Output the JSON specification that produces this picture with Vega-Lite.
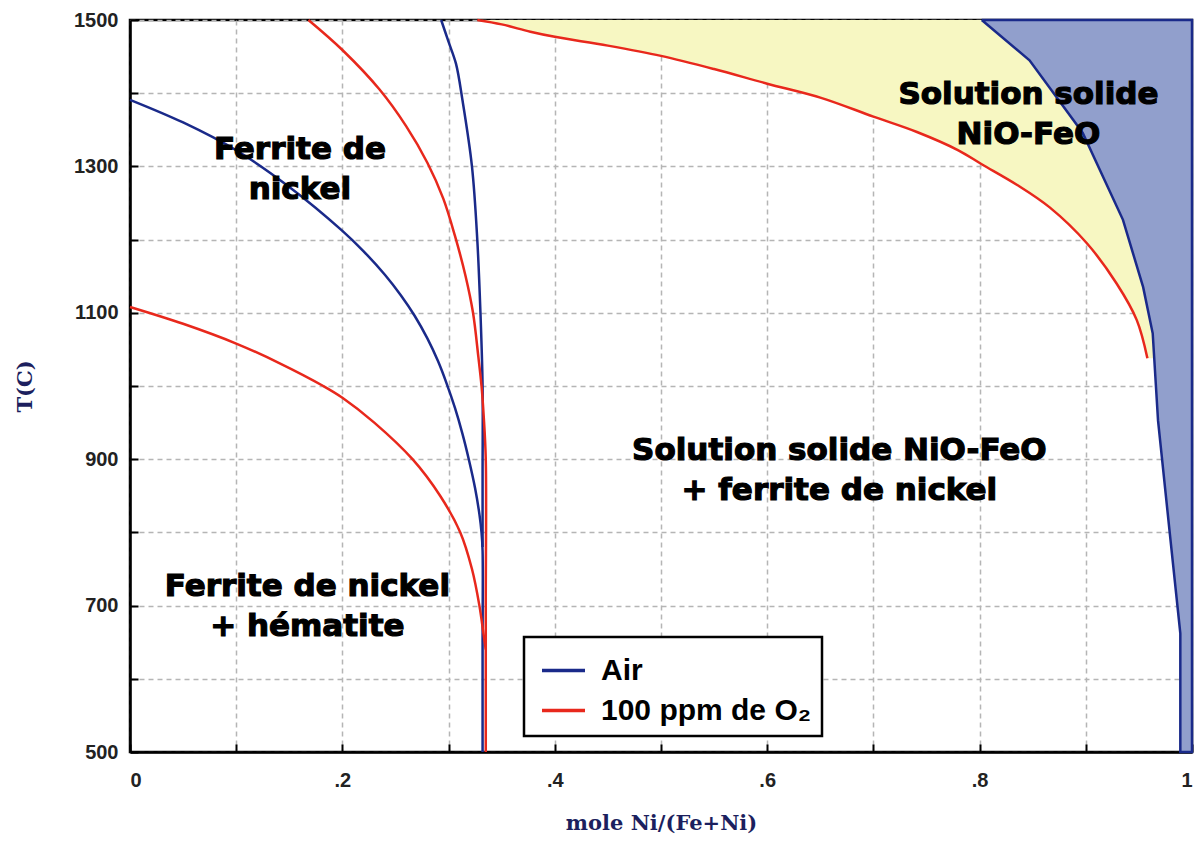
{
  "$schema": "https://vega.github.io/schema/vega-lite/v6.json",
  "width": 1062,
  "height": 732,
  "autosize": "none",
  "padding": {"left": 130, "top": 20, "right": 4, "bottom": 93},
  "background": "white",
  "config": {
    "view": {"stroke": "black", "strokeWidth": 2.5},
    "legend": {"strokeWidth": 2.5, "strokeColor": "black"},
    "axis": {
      "labelFont": "Liberation Sans", "labelFontWeight": "bold", "labelFontSize": 20, "labelColor": "#222",
      "titleFont": "DejaVu Serif", "titleFontWeight": "bold", "titleFontSize": 21, "titleColor": "#1c1f5e",
      "grid": true, "gridColor": "#b5b5b5", "gridDash": [5, 4], "gridWidth": 1.5,
      "domainColor": "black", "domainWidth": 2.5,
      "tickColor": "black", "tickWidth": 2
    }
  },
  "datasets": {
    "lines": [
      {"s": "A1", "atm": "Air", "i": 1, "x": 0, "T": 1391},
      {"s": "A1", "atm": "Air", "i": 2, "x": 0.05, "T": 1360},
      {"s": "A1", "atm": "Air", "i": 3, "x": 0.1, "T": 1322},
      {"s": "A1", "atm": "Air", "i": 4, "x": 0.15, "T": 1272},
      {"s": "A1", "atm": "Air", "i": 5, "x": 0.2, "T": 1212},
      {"s": "A1", "atm": "Air", "i": 6, "x": 0.22, "T": 1184},
      {"s": "A1", "atm": "Air", "i": 7, "x": 0.24, "T": 1152},
      {"s": "A1", "atm": "Air", "i": 8, "x": 0.255, "T": 1124},
      {"s": "A1", "atm": "Air", "i": 9, "x": 0.268, "T": 1096},
      {"s": "A1", "atm": "Air", "i": 10, "x": 0.28, "T": 1065},
      {"s": "A1", "atm": "Air", "i": 11, "x": 0.29, "T": 1034},
      {"s": "A1", "atm": "Air", "i": 12, "x": 0.298, "T": 1004},
      {"s": "A1", "atm": "Air", "i": 13, "x": 0.306, "T": 970},
      {"s": "A1", "atm": "Air", "i": 14, "x": 0.313, "T": 935},
      {"s": "A1", "atm": "Air", "i": 15, "x": 0.319, "T": 900},
      {"s": "A1", "atm": "Air", "i": 16, "x": 0.325, "T": 860},
      {"s": "A1", "atm": "Air", "i": 17, "x": 0.329, "T": 825},
      {"s": "A1", "atm": "Air", "i": 18, "x": 0.331, "T": 800},
      {"s": "A1", "atm": "Air", "i": 19, "x": 0.332, "T": 775},
      {"s": "A1", "atm": "Air", "i": 20, "x": 0.332, "T": 650},
      {"s": "A1", "atm": "Air", "i": 21, "x": 0.332, "T": 500},
      {"s": "A2", "atm": "Air", "i": 1, "x": 0.293, "T": 1500},
      {"s": "A2", "atm": "Air", "i": 2, "x": 0.3, "T": 1470},
      {"s": "A2", "atm": "Air", "i": 3, "x": 0.307, "T": 1440},
      {"s": "A2", "atm": "Air", "i": 4, "x": 0.313, "T": 1391},
      {"s": "A2", "atm": "Air", "i": 5, "x": 0.322, "T": 1300},
      {"s": "A2", "atm": "Air", "i": 6, "x": 0.327, "T": 1200},
      {"s": "A2", "atm": "Air", "i": 7, "x": 0.33, "T": 1100},
      {"s": "A2", "atm": "Air", "i": 8, "x": 0.332, "T": 1000},
      {"s": "A2", "atm": "Air", "i": 9, "x": 0.332, "T": 880},
      {"s": "A2", "atm": "Air", "i": 10, "x": 0.332, "T": 780},
      {"s": "R1", "atm": "100 ppm de O₂", "i": 1, "x": 0, "T": 1108},
      {"s": "R1", "atm": "100 ppm de O₂", "i": 2, "x": 0.05, "T": 1085},
      {"s": "R1", "atm": "100 ppm de O₂", "i": 3, "x": 0.1, "T": 1058},
      {"s": "R1", "atm": "100 ppm de O₂", "i": 4, "x": 0.141, "T": 1031},
      {"s": "R1", "atm": "100 ppm de O₂", "i": 5, "x": 0.182, "T": 1000},
      {"s": "R1", "atm": "100 ppm de O₂", "i": 6, "x": 0.2, "T": 984},
      {"s": "R1", "atm": "100 ppm de O₂", "i": 7, "x": 0.23, "T": 950},
      {"s": "R1", "atm": "100 ppm de O₂", "i": 8, "x": 0.266, "T": 900},
      {"s": "R1", "atm": "100 ppm de O₂", "i": 9, "x": 0.292, "T": 850},
      {"s": "R1", "atm": "100 ppm de O₂", "i": 10, "x": 0.311, "T": 800},
      {"s": "R1", "atm": "100 ppm de O₂", "i": 11, "x": 0.322, "T": 750},
      {"s": "R1", "atm": "100 ppm de O₂", "i": 12, "x": 0.329, "T": 700},
      {"s": "R1", "atm": "100 ppm de O₂", "i": 13, "x": 0.333, "T": 660},
      {"s": "R1", "atm": "100 ppm de O₂", "i": 14, "x": 0.335, "T": 640},
      {"s": "R2", "atm": "100 ppm de O₂", "i": 1, "x": 0.168, "T": 1500},
      {"s": "R2", "atm": "100 ppm de O₂", "i": 2, "x": 0.2, "T": 1459},
      {"s": "R2", "atm": "100 ppm de O₂", "i": 3, "x": 0.235, "T": 1405},
      {"s": "R2", "atm": "100 ppm de O₂", "i": 4, "x": 0.26, "T": 1355},
      {"s": "R2", "atm": "100 ppm de O₂", "i": 5, "x": 0.28, "T": 1305},
      {"s": "R2", "atm": "100 ppm de O₂", "i": 6, "x": 0.295, "T": 1256},
      {"s": "R2", "atm": "100 ppm de O₂", "i": 7, "x": 0.306, "T": 1205},
      {"s": "R2", "atm": "100 ppm de O₂", "i": 8, "x": 0.316, "T": 1150},
      {"s": "R2", "atm": "100 ppm de O₂", "i": 9, "x": 0.323, "T": 1100},
      {"s": "R2", "atm": "100 ppm de O₂", "i": 10, "x": 0.328, "T": 1040},
      {"s": "R2", "atm": "100 ppm de O₂", "i": 11, "x": 0.331, "T": 1000},
      {"s": "R2", "atm": "100 ppm de O₂", "i": 12, "x": 0.333, "T": 960},
      {"s": "R2", "atm": "100 ppm de O₂", "i": 13, "x": 0.335, "T": 900},
      {"s": "R2", "atm": "100 ppm de O₂", "i": 14, "x": 0.335, "T": 700},
      {"s": "R2", "atm": "100 ppm de O₂", "i": 15, "x": 0.335, "T": 500},
      {"s": "R3", "atm": "100 ppm de O₂", "i": 1, "x": 0.327, "T": 1500},
      {"s": "R3", "atm": "100 ppm de O₂", "i": 2, "x": 0.35, "T": 1494},
      {"s": "R3", "atm": "100 ppm de O₂", "i": 3, "x": 0.377, "T": 1484},
      {"s": "R3", "atm": "100 ppm de O₂", "i": 4, "x": 0.4, "T": 1477},
      {"s": "R3", "atm": "100 ppm de O₂", "i": 5, "x": 0.45, "T": 1465},
      {"s": "R3", "atm": "100 ppm de O₂", "i": 6, "x": 0.5, "T": 1451},
      {"s": "R3", "atm": "100 ppm de O₂", "i": 7, "x": 0.55, "T": 1433},
      {"s": "R3", "atm": "100 ppm de O₂", "i": 8, "x": 0.6, "T": 1413},
      {"s": "R3", "atm": "100 ppm de O₂", "i": 9, "x": 0.65, "T": 1394},
      {"s": "R3", "atm": "100 ppm de O₂", "i": 10, "x": 0.7, "T": 1368},
      {"s": "R3", "atm": "100 ppm de O₂", "i": 11, "x": 0.741, "T": 1347},
      {"s": "R3", "atm": "100 ppm de O₂", "i": 12, "x": 0.78, "T": 1322},
      {"s": "R3", "atm": "100 ppm de O₂", "i": 13, "x": 0.802, "T": 1303},
      {"s": "R3", "atm": "100 ppm de O₂", "i": 14, "x": 0.835, "T": 1275},
      {"s": "R3", "atm": "100 ppm de O₂", "i": 15, "x": 0.866, "T": 1244},
      {"s": "R3", "atm": "100 ppm de O₂", "i": 16, "x": 0.901, "T": 1195},
      {"s": "R3", "atm": "100 ppm de O₂", "i": 17, "x": 0.929, "T": 1140},
      {"s": "R3", "atm": "100 ppm de O₂", "i": 18, "x": 0.948, "T": 1090},
      {"s": "R3", "atm": "100 ppm de O₂", "i": 19, "x": 0.958, "T": 1038},
      {"s": "A3", "atm": "Air", "i": 1, "x": 0.802, "T": 1500},
      {"s": "A3", "atm": "Air", "i": 2, "x": 0.847, "T": 1445},
      {"s": "A3", "atm": "Air", "i": 3, "x": 0.897, "T": 1346},
      {"s": "A3", "atm": "Air", "i": 4, "x": 0.935, "T": 1227},
      {"s": "A3", "atm": "Air", "i": 5, "x": 0.954, "T": 1135},
      {"s": "A3", "atm": "Air", "i": 6, "x": 0.963, "T": 1072},
      {"s": "A3", "atm": "Air", "i": 7, "x": 0.968, "T": 953},
      {"s": "A3", "atm": "Air", "i": 8, "x": 0.979, "T": 800},
      {"s": "A3", "atm": "Air", "i": 9, "x": 0.989, "T": 662},
      {"s": "A3", "atm": "Air", "i": 10, "x": 0.989, "T": 500},
      {"s": "A3", "atm": "Air", "i": 11, "x": 1, "T": 500},
      {"s": "A3", "atm": "Air", "i": 12, "x": 1, "T": 1500},
      {"s": "A3", "atm": "Air", "i": 13, "x": 0.802, "T": 1500}
    ],
    "yellow": [
      {"x": 0.327, "T": 1500}, {"x": 0.35, "T": 1494}, {"x": 0.377, "T": 1484}, {"x": 0.4, "T": 1477},
      {"x": 0.45, "T": 1465}, {"x": 0.5, "T": 1451}, {"x": 0.55, "T": 1433}, {"x": 0.6, "T": 1413},
      {"x": 0.65, "T": 1394}, {"x": 0.7, "T": 1368}, {"x": 0.741, "T": 1347},
      {"x": 0.78, "T": 1322}, {"x": 0.802, "T": 1303}, {"x": 0.835, "T": 1275}, {"x": 0.866, "T": 1244},
      {"x": 0.901, "T": 1195}, {"x": 0.929, "T": 1140}, {"x": 0.948, "T": 1090}, {"x": 0.958, "T": 1038}
    ],
    "bluefill": [
      {"x": 0.802, "T": 1500}, {"x": 0.847, "T": 1445}, {"x": 0.897, "T": 1346}, {"x": 0.935, "T": 1227},
      {"x": 0.954, "T": 1135}, {"x": 0.963, "T": 1072}, {"x": 0.968, "T": 953}, {"x": 0.979, "T": 800},
      {"x": 0.989, "T": 662}, {"x": 0.989, "T": 500}
    ],
    "labels": [
      {"lab": "Ferrite de\nnickel", "x": 0.16, "T": 1322},
      {"lab": "Ferrite de nickel\n+ hématite", "x": 0.167, "T": 726},
      {"lab": "Solution solide NiO-FeO\n+ ferrite de nickel", "x": 0.668, "T": 911},
      {"lab": "Solution solide\nNiO-FeO", "x": 0.846, "T": 1397}
    ]
  },
  "layer": [
    {
      "data": {"name": "yellow"},
      "mark": {"type": "area", "orient": "horizontal", "color": "#f7f7c2", "opacity": 1, "interpolate": "monotone"},
      "encoding": {
        "y": {"field": "T", "type": "quantitative", "scale": {"domain": [500, 1500]},
          "axis": {"title": "T(C)", "values": [500, 600, 700, 800, 900, 1000, 1100, 1200, 1300, 1400, 1500], "format": "d",
            "labelExpr": "datum.value % 200 == 100 ? datum.label : ''", "tickSize": -8, "labelPadding": 20, "titlePadding": 38}},
        "x": {"field": "x", "type": "quantitative", "scale": {"domain": [0, 1]},
          "axis": {"title": "mole Ni/(Fe+Ni)", "values": [0, 0.1, 0.2, 0.3, 0.4, 0.5, 0.6, 0.7, 0.8, 0.9, 1],
            "labelExpr": "datum.value == 0 ? '0' : datum.value == 1 ? '1' : (round(datum.value * 10) % 2 == 0 ? '.' + round(datum.value * 10) : '')",
            "tickSize": -8, "labelPadding": 26, "titlePadding": 22}},
        "x2": {"datum": 1}
      }
    },
    {
      "data": {"name": "bluefill"},
      "mark": {"type": "area", "orient": "horizontal", "color": "#919fcc", "opacity": 1},
      "encoding": {
        "y": {"field": "T", "type": "quantitative"},
        "x": {"field": "x", "type": "quantitative"},
        "x2": {"datum": 1}
      }
    },
    {
      "data": {"name": "lines"},
      "transform": [{"filter": "datum.s != 'A3'"}],
      "mark": {"type": "line", "strokeWidth": 2.5, "interpolate": "catmull-rom"},
      "encoding": {
        "x": {"field": "x", "type": "quantitative"},
        "y": {"field": "T", "type": "quantitative"},
        "order": {"field": "i", "type": "quantitative"},
        "detail": {"field": "s", "type": "nominal"},
        "color": {"field": "atm", "type": "nominal",
          "scale": {"domain": ["Air", "100 ppm de O₂"], "range": ["#1a2a8a", "#e8281c"]},
          "legend": {"title": null, "orient": "none", "legendX": 394, "legendY": 617,
            "labelFont": "Liberation Sans", "labelFontWeight": "bold", "labelFontSize": 30, "labelColor": "black",
            "symbolType": "M-1,0H1", "symbolSize": 1849, "symbolStrokeWidth": 3.5, "labelOffset": 14, "symbolOffset": 6,
            "rowPadding": 1, "padding": 10, "strokeColor": "black", "fillColor": "white",
            "labelLimit": 400}}
      }
    },
    {
      "data": {"name": "lines"},
      "transform": [{"filter": "datum.s == 'A3'"}],
      "mark": {"type": "line", "strokeWidth": 2.5},
      "encoding": {
        "x": {"field": "x", "type": "quantitative"},
        "y": {"field": "T", "type": "quantitative"},
        "order": {"field": "i", "type": "quantitative"},
        "detail": {"field": "s", "type": "nominal"},
        "color": {"field": "atm", "type": "nominal"}
      }
    },
    {
      "data": {"name": "labels"},
      "mark": {"type": "text", "font": "DejaVu Sans", "fontWeight": "bold", "fontSize": 31, "lineBreak": "\n",
        "lineHeight": 40, "align": "center", "baseline": "middle", "color": "black", "stroke": "black", "strokeWidth": 1.2},
      "encoding": {
        "x": {"field": "x", "type": "quantitative"},
        "y": {"field": "T", "type": "quantitative"},
        "text": {"field": "lab", "type": "nominal"}
      }
    }
  ]
}
